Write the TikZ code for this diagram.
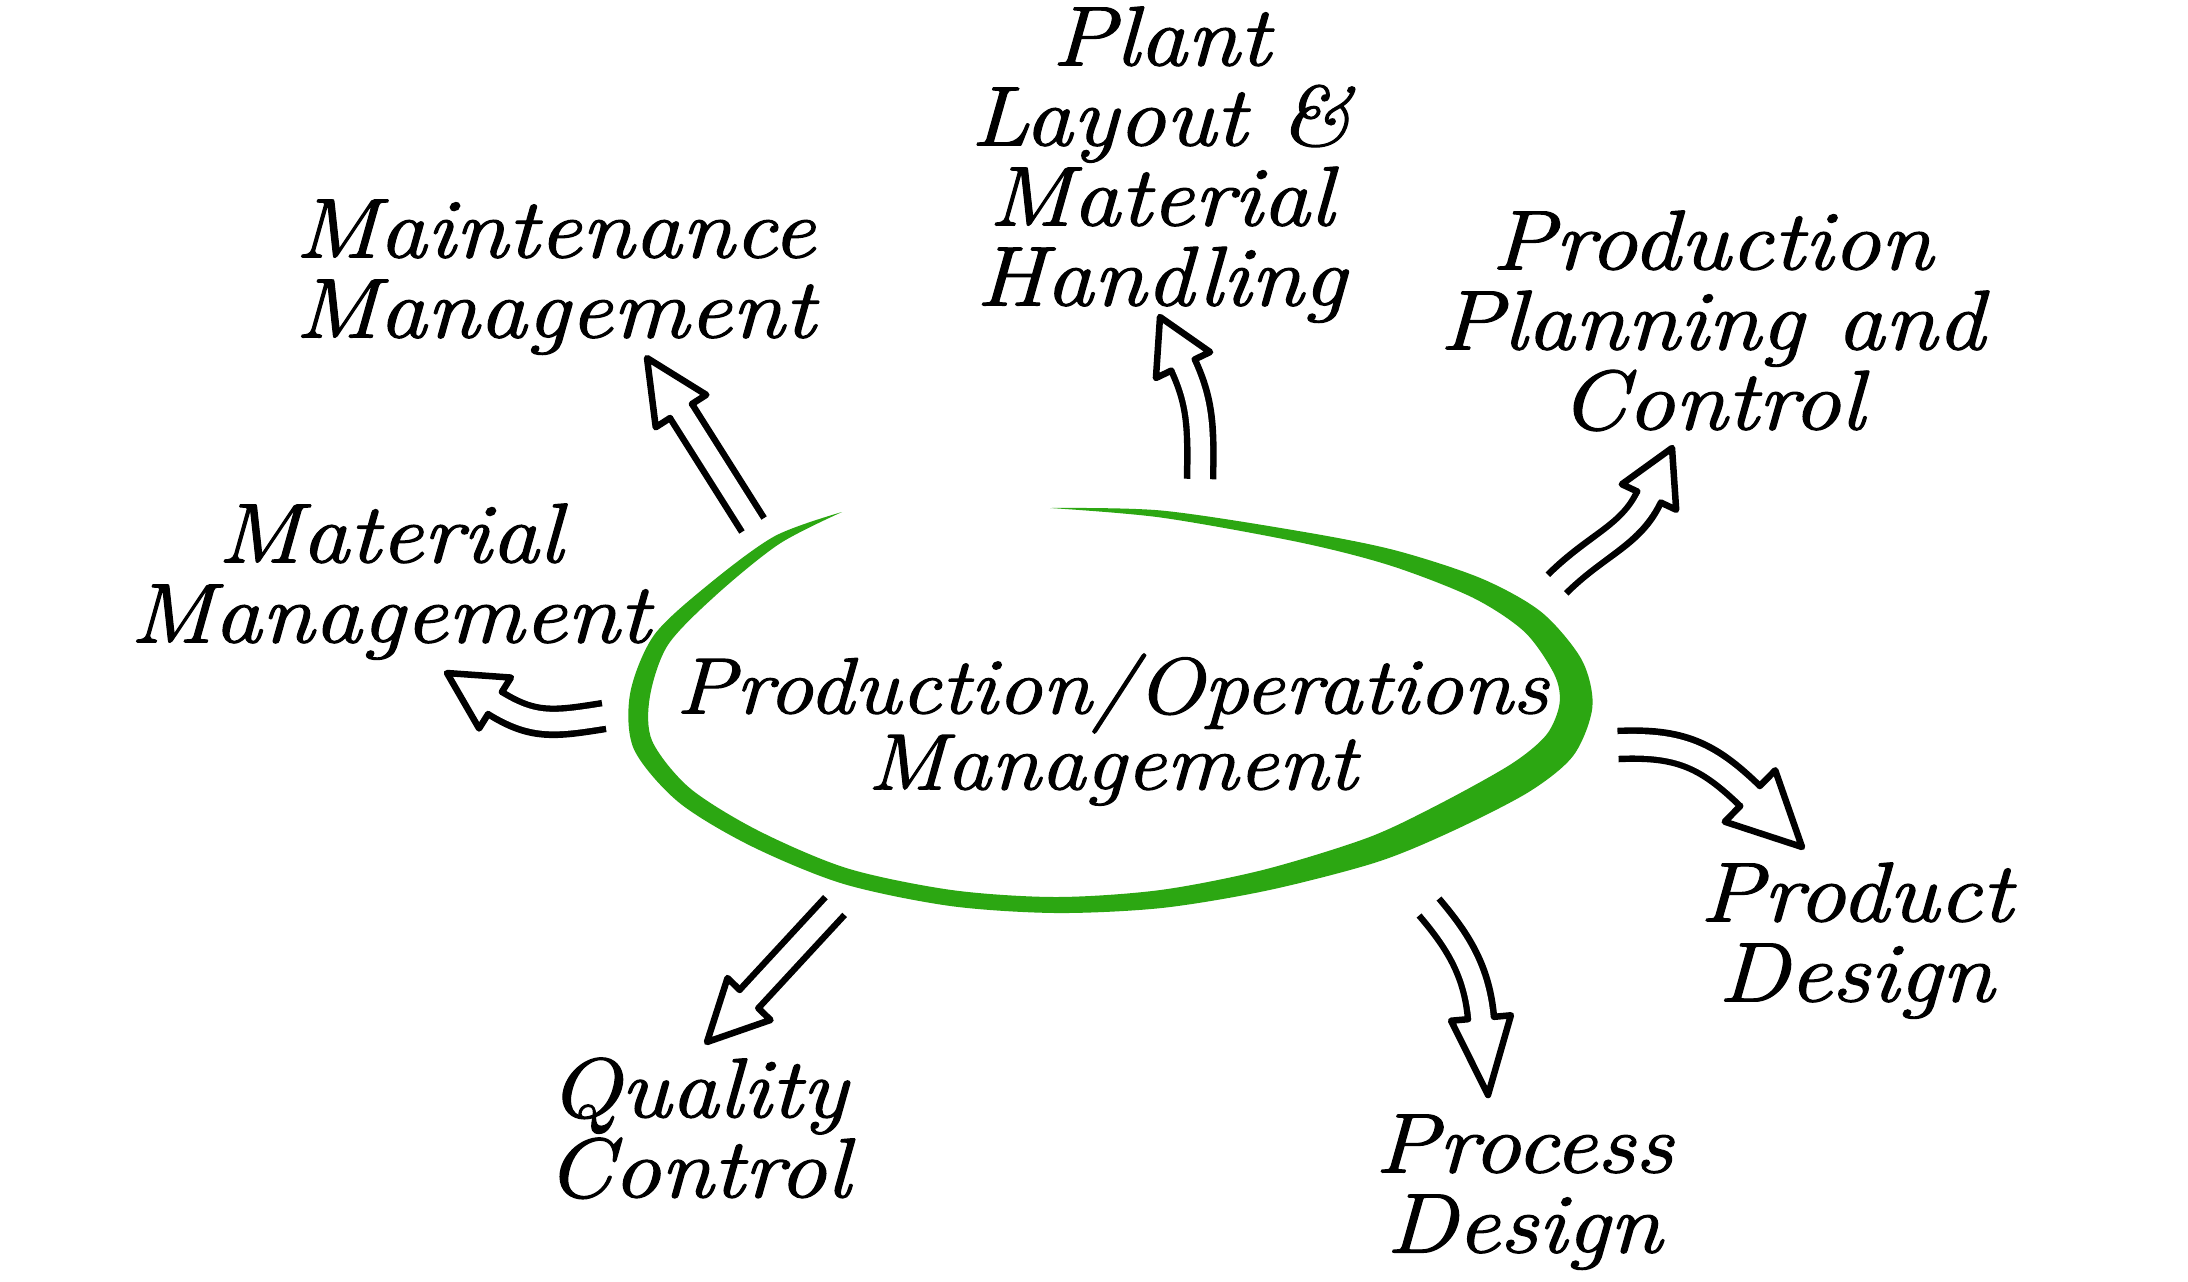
\documentclass[tikz,border=0pt]{standalone}
\usepackage{fontspec}
\setmainfont{Latin Modern Roman}[FakeStretch=1.13, FakeBold=1.5]
\usetikzlibrary{calc}
\definecolor{pgreen}{RGB}{44,167,18}
\tikzset{
  lbl/.style={anchor=north, inner sep=0pt, align=center,
    font={\fontsize{24}{22.76}\selectfont\itshape\lineskiplimit=-20pt}},
  centerlbl/.style={lbl,
    font={\fontsize{22.6}{21.6}\selectfont\itshape\lineskiplimit=-20pt}},
  shaft/.style={draw=black, line width=0.325cm,
    postaction={draw=white, line width=0.195cm, shorten <=-0.03cm, shorten >=-0.03cm}},
  wideshaft/.style={draw=black, line width=0.345cm,
    postaction={draw=white, line width=0.215cm, shorten <=-0.03cm, shorten >=-0.03cm}},
  headline/.style={draw=black, line width=0.065cm, line cap=round, line join=round},
}
\newcommand{\hollowhead}[4]{\draw[headline] ($(#1)!#3!90:(#2)$) -- ($(#1)!#4!90:(#2)$) -- (#2) -- ($(#1)!#4!-90:(#2)$) -- ($(#1)!#3!-90:(#2)$);}
\begin{document}
\begin{tikzpicture}[x=0.01cm,y=-0.01cm]
\fill[white] (0,0) rectangle (2188,1281);
\useasboundingbox (0,0) rectangle (2188,1281);

% green hand-drawn ring
\foreach \i/\px/\py in {0/939/502,1/1050/508,2/1161/514,3/1301/537,4/1393/558,5/1477/588,6/1533/622,7/1568/667,8/1576/705,9/1560/745,10/1520/778,11/1445/818,12/1372/850,13/1266/880,14/1161/899,15/1056/905,16/951/898,17/845/876,18/754/838,19/684/795,20/643/745,21/640/695,22/661/640,23/712/590,24/777/540,25/842/512,26/907/484}
  \coordinate (G\i) at (\px,\py);
\foreach \i/\w in {1/0,2/7,3/11,4/16,5/21,6/26,7/31,8/33,9/34,10/33,11/30,12/26,13/21,14/18,15/16,16/16,17/16,18/17,19/18,20/20,21/20,22/17,23/13,24/9,25/0}{
  \pgfmathtruncatemacro{\ip}{\i-1}
  \pgfmathtruncatemacro{\inx}{\i+1}
  \pgfmathsetmacro{\hw}{\w*0.14226}
  \coordinate (GQ\i) at ($(G\i)+(G\inx)-(G\ip)$);
  \coordinate (GO\i) at ($(G\i)!\hw pt!90:(GQ\i)$);
  \coordinate (GI\i) at ($(G\i)!\hw pt!-90:(GQ\i)$);
}
\fill[pgreen] plot[smooth] coordinates {(GO1) (GO2) (GO3) (GO4) (GO5) (GO6) (GO7) (GO8) (GO9) (GO10) (GO11) (GO12) (GO13) (GO14) (GO15) (GO16) (GO17) (GO18) (GO19) (GO20) (GO21) (GO22) (GO23) (GO24) (GO25)}
  -- plot[smooth] coordinates {(GI25) (GI24) (GI23) (GI22) (GI21) (GI20) (GI19) (GI18) (GI17) (GI16) (GI15) (GI14) (GI13) (GI12) (GI11) (GI10) (GI9) (GI8) (GI7) (GI6) (GI5) (GI4) (GI3) (GI2) (GI1)} -- cycle;

% labels
\node[lbl] (plant) at (1161,6) {Plant\\Layout \&\\Material\\Handling};
\node[lbl] (maint) at (555,199) {Maintenance\\Management};
\node[lbl] (ppc) at (1712,210) {Production\\Planning and\\Control};
\node[lbl] (matm) at (390,503) {Material\\Management};
\node[centerlbl] (pom) at (1112,653) {Production/Operations\\Management};
\node[lbl] (prodd) at (1856,862) {Product\\Design};
\node[lbl] (qc) at (698,1057) {Quality\\Control};
\node[lbl] (procd) at (1524,1114) {Process\\Design};

% arrow end points
\coordinate (mT) at (753,525); \coordinate (mB) at (681,411); \coordinate (mH) at (647,358);
\coordinate (pT) at (1200,479); \coordinate (pB) at (1183,365); \coordinate (pH) at (1160,317);
\coordinate (cT) at (1557,584); \coordinate (cB) at (1649,497); \coordinate (cH) at (1672,448);
\coordinate (aT) at (604,716); \coordinate (aB) at (495,703); \coordinate (aH) at (447,673);
\coordinate (dT) at (1618,745); \coordinate (dB) at (1750,796); \coordinate (dH) at (1802,847);
\coordinate (sT) at (1429,907); \coordinate (sB) at (1481,1018); \coordinate (sH) at (1488,1095);
\coordinate (qT) at (835,906); \coordinate (qB) at (749,999); \coordinate (qH) at (707,1042);

% Maintenance Management
\draw[shaft] (mT) -- (mB);
\hollowhead{mB}{mH}{0.13cm}{0.30cm}
% Plant Layout
\draw[shaft] (pT) .. controls (1201,430) and (1201,403) .. (pB);
\hollowhead{pB}{pH}{0.13cm}{0.30cm}
% Production Planning and Control
\draw[shaft] (cT) .. controls (1597,544) and (1631,536) .. (cB);
\hollowhead{cB}{cH}{0.13cm}{0.30cm}
% Material Management
\draw[shaft] (aT) .. controls (554,724) and (533,727) .. (aB);
\hollowhead{aB}{aH}{0.13cm}{0.30cm}
% Product Design
\draw[wideshaft] (dT) .. controls (1680,742) and (1708,755) .. (dB);
\hollowhead{dB}{dH}{0.14cm}{0.36cm}
% Process Design
\draw[shaft] (sT) .. controls (1459,942) and (1477,972) .. (sB);
\hollowhead{sB}{sH}{0.13cm}{0.30cm}
% Quality Control
\draw[shaft] (qT) -- (qB);
\hollowhead{qB}{qH}{0.13cm}{0.30cm}
\end{tikzpicture}
\end{document}
